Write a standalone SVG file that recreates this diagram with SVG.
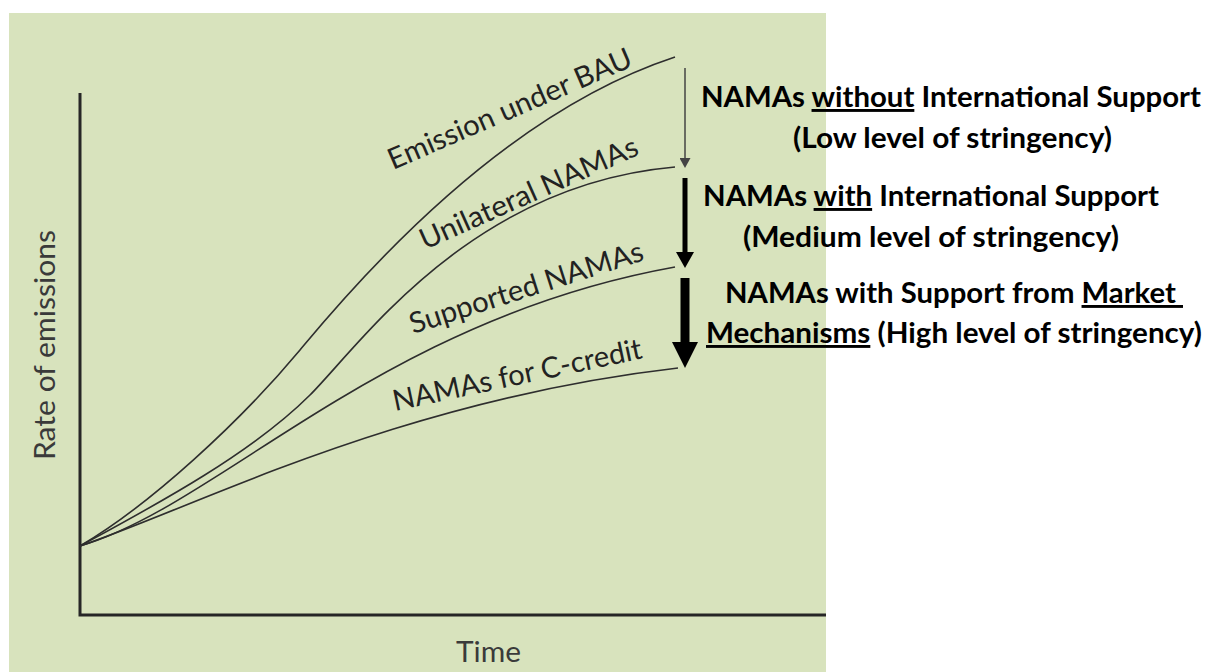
<svg xmlns="http://www.w3.org/2000/svg" width="1230" height="672" viewBox="0 0 1230 672">
<defs>
<style>
.lbl{font-family:Lato,'Open Sans','Liberation Sans',sans-serif;font-size:29px;fill:#222}
.ax{font-family:Lato,'Open Sans','Liberation Sans',sans-serif;font-size:29px;fill:#3a3a3a}
.note{font-family:Lato,'Open Sans','Liberation Sans',sans-serif;font-size:29px;font-weight:bold;fill:#000}
.u{text-decoration:underline}
.curve{fill:none;stroke:#2e2e2e;stroke-width:1.6}
.axis{stroke:#262626;stroke-width:3;fill:none}
.arr{fill:none}
</style>
<marker id="ah1" markerUnits="userSpaceOnUse" markerWidth="10" markerHeight="11" viewBox="0 0 10 11" refX="0" refY="5.5" orient="auto"><path d="M0,0 L10,5.5 L0,11 Z" fill="#444"/></marker>
<marker id="ah2" markerUnits="userSpaceOnUse" markerWidth="16" markerHeight="18" viewBox="0 0 16 18" refX="0" refY="9" orient="auto"><path d="M0,0 L16,9 L0,18 Z" fill="#000"/></marker>
<marker id="ah3" markerUnits="userSpaceOnUse" markerWidth="26" markerHeight="26" viewBox="0 0 26 26" refX="0" refY="13" orient="auto"><path d="M0,0 L26,13 L0,26 Z" fill="#000"/></marker>
</defs>
<rect id="background" x="9" y="13" width="817" height="659" fill="#d8e3bd"/>
<g id="axes">
<path class="axis" d="M80,93 L80,615 L826,615"/>
<text class="ax" transform="translate(55,460) rotate(-90)" textLength="230" lengthAdjust="spacingAndGlyphs">Rate of emissions</text>
<text class="ax" x="456" y="662" textLength="65" lengthAdjust="spacingAndGlyphs">Time</text>
</g>
<g id="curve-bau">
<path class="curve" d="M80,546 C150,505 240,422 300,350 C340,302 490,118 675,57"/>
<text class="lbl" transform="translate(393,170) rotate(-23.4)" textLength="263" lengthAdjust="spacingAndGlyphs">Emission under BAU</text>
</g>
<g id="curve-unilateral">
<path class="curve" d="M80,546 C150,508 250,455 310,395 C360,345 470,185 675,167"/>
<text class="lbl" transform="translate(425,250) rotate(-24)" textLength="236" lengthAdjust="spacingAndGlyphs">Unilateral NAMAs</text>
</g>
<g id="curve-supported">
<path class="curve" d="M80,546 C220,505 380,320 675,267"/>
<text class="lbl" transform="translate(413,334) rotate(-17.7)" textLength="244" lengthAdjust="spacingAndGlyphs">Supported NAMAs</text>
</g>
<g id="curve-ccredit">
<path class="curve" d="M80,546 C200,505 400,400 678,368"/>
<text class="lbl" transform="translate(395,411) rotate(-12)" textLength="254" lengthAdjust="spacingAndGlyphs">NAMAs for C-credit</text>
</g>
<g id="connectors">
<line class="arr" x1="685" y1="68" x2="685" y2="158" stroke="#444" stroke-width="1.5" marker-end="url(#ah1)"/>
<line class="arr" x1="685" y1="178" x2="685" y2="252" stroke="#000" stroke-width="5" marker-end="url(#ah2)"/>
<line class="arr" x1="685" y1="278" x2="685" y2="342" stroke="#000" stroke-width="9" marker-end="url(#ah3)"/>
</g>
<g id="note-low">
<text class="note" x="701" y="107" textLength="500" lengthAdjust="spacingAndGlyphs">NAMAs <tspan class="u">without</tspan> International Support</text>
<text class="note" x="793" y="148" textLength="319" lengthAdjust="spacingAndGlyphs">(Low level of stringency)</text>
</g>
<g id="note-medium">
<text class="note" x="703" y="206" textLength="456" lengthAdjust="spacingAndGlyphs">NAMAs <tspan class="u">with</tspan> International Support</text>
<text class="note" x="743" y="247" textLength="376" lengthAdjust="spacingAndGlyphs">(Medium level of stringency)</text>
</g>
<g id="note-high">
<text class="note" x="725" y="303" textLength="458" lengthAdjust="spacingAndGlyphs" xml:space="preserve">NAMAs with Support from <tspan class="u">Market </tspan></text>
<text class="note" x="706" y="343" textLength="496" lengthAdjust="spacingAndGlyphs"><tspan class="u">Mechanisms</tspan> (High level of stringency)</text>
</g>
</svg>
